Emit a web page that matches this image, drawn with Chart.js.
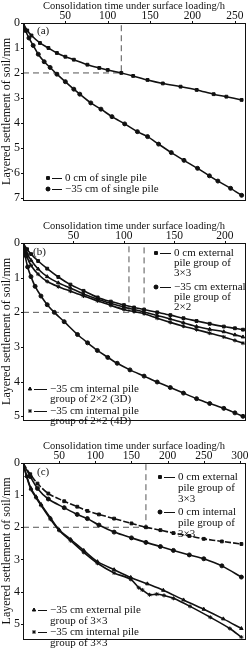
<!DOCTYPE html>
<html>
<head>
<meta charset="utf-8">
<script src="https://cdn.jsdelivr.net/npm/chart.js@4"></script>
<style>
  html, body { margin: 0; padding: 0; background: #fff; overflow: hidden; }
  body { width: 250px; height: 649px; position: relative; }
  canvas { position: absolute; left: 0; }
</style>
</head>
<body>
<canvas id="chartA" width="250" height="210" style="top:0px"></canvas>
<canvas id="chartB" width="250" height="210" style="top:220px"></canvas>
<canvas id="chartC" width="250" height="209" style="top:440px"></canvas>
<script>
// ===== DATA =====
// (a) single pile
const aTime0 = [0, 5, 10, 20, 30, 40, 50, 60, 76, 90, 100, 116, 130, 147, 165, 186, 205, 225, 240, 258];
const aSettle0 = [0, 0.3, 0.5, 0.8, 1.0, 1.2, 1.35, 1.47, 1.67, 1.8, 1.88, 2.0, 2.12, 2.28, 2.42, 2.55, 2.68, 2.85, 2.95, 3.08];
const aTime35 = [0, 3, 7, 12, 18, 25, 32, 40, 50, 60, 67, 80, 92, 105, 120, 135, 147, 160, 175, 190, 206, 220, 230, 245, 258];
const aSettle35 = [0, 0.3, 0.6, 0.9, 1.25, 1.55, 1.78, 2.05, 2.35, 2.65, 2.85, 3.2, 3.45, 3.75, 4.04, 4.35, 4.55, 4.85, 5.19, 5.5, 5.82, 6.12, 6.33, 6.62, 6.9];
const aGuideX = [0, 116, 116];
const aGuideY = [2, 2, 0];
const aTicksX = [50, 100, 150, 200, 250];
const aTicksY = [0, 1, 2, 3, 4, 5, 6, 7];

// (b) pile groups
const bTime = [0, 4, 8, 15, 24, 35, 47, 60, 74, 87, 100, 110, 120, 133, 146, 159, 172, 185, 199, 210, 218];
const bExt33 = [0, 0.18, 0.32, 0.52, 0.74, 0.98, 1.2, 1.38, 1.57, 1.69, 1.79, 1.86, 1.92, 2.0, 2.08, 2.17, 2.25, 2.33, 2.41, 2.46, 2.5];
const bInt3D = [0, 0.3, 0.5, 0.75, 0.97, 1.15, 1.3, 1.47, 1.62, 1.74, 1.85, 1.92, 1.99, 2.09, 2.19, 2.3, 2.41, 2.49, 2.56, 2.65, 2.71];
const bInt4D = [0, 0.4, 0.65, 0.9, 1.11, 1.26, 1.39, 1.53, 1.67, 1.8, 1.92, 1.98, 2.04, 2.17, 2.29, 2.4, 2.5, 2.6, 2.71, 2.81, 2.89];
const bTimeExt22 = [0, 2, 4.6, 7.9, 12, 17.8, 24, 31, 40.8, 54, 64, 73.7, 84, 93.4, 106, 120, 133, 146, 159, 172, 185, 199, 210, 218];
const bExt22 = [0, 0.35, 0.69, 0.97, 1.25, 1.53, 1.78, 2.0, 2.27, 2.64, 2.88, 3.1, 3.3, 3.47, 3.66, 3.84, 4.01, 4.17, 4.33, 4.49, 4.63, 4.77, 4.9, 5.0];
const bGuideX = [0, 120, 120];
const bGuideY = [2, 2, 0];
const bGuide2X = [105, 105];
const bGuide2Y = [2, 0];
const bTicksX = [50, 100, 150, 200];
const bTicksY = [0, 1, 2, 3, 4, 5];

// (c) 3x3 pile group
const cTime = [0, 10, 20, 35, 57, 75, 89, 105, 126, 150, 170, 190, 208, 230, 250, 275, 302];
const cExt0 = [0, 0.35, 0.64, 0.95, 1.19, 1.36, 1.49, 1.6, 1.73, 1.88, 2.0, 2.09, 2.18, 2.27, 2.36, 2.44, 2.52];
const cInt0 = [0, 0.42, 0.79, 1.12, 1.39, 1.6, 1.73, 1.93, 2.15, 2.33, 2.47, 2.6, 2.72, 2.86, 2.98, 3.2, 3.55];
const cTimeExt35 = [0, 5, 11, 18, 25, 38, 50, 66, 84, 103, 126, 149, 172, 194, 222, 250, 277, 302];
const cExt35 = [0, 0.4, 0.79, 1.05, 1.29, 1.71, 2.08, 2.38, 2.72, 3.07, 3.32, 3.56, 3.76, 3.96, 4.26, 4.55, 4.85, 5.15];
const cTimeInt35 = [0, 5, 11, 18, 25, 38, 50, 66, 84, 103, 126, 149, 160, 165, 175, 185, 195, 208, 231, 259, 286, 302];
const cInt35 = [0, 0.42, 0.82, 1.08, 1.32, 1.75, 2.1, 2.42, 2.78, 3.12, 3.42, 3.62, 3.88, 3.95, 4.1, 4.08, 4.12, 4.21, 4.46, 4.8, 5.15, 5.42];
const cGuideX = [0, 170, 170];
const cGuideY = [2, 2, 0];
const cTicksX = [50, 100, 150, 200, 250, 300];
const cTicksY = [0, 1, 2, 3, 4, 5];

const xTitle = "Consolidation time under surface loading/h";
const yTitle = "Layered settlement of soil/mm";

// ===== HELPERS =====
const serif = '"Liberation Serif", "DejaVu Serif", serif';
const ink = "#111";

function pts(xs, ys) {
    return xs.map((x, i) => ({ x: x, y: ys[i] }));
}

function series(xs, ys, marker, dash) {
    return {
        data: pts(xs, ys),
        borderColor: ink,
        backgroundColor: ink,
        borderWidth: 1.6,
        borderDash: dash || [],
        pointStyle: marker,
        pointRadius: 2,
        pointBorderWidth: 1,
        tension: 0.3
    };
}

function guide(xs, ys) {
    return {
        data: pts(xs, ys),
        borderColor: "#555",
        borderWidth: 1,
        borderDash: [6, 4],
        pointRadius: 0,
        tension: 0
    };
}

function drawMarker(ctx, style, x, y) {
    ctx.fillStyle = ink;
    ctx.strokeStyle = ink;
    ctx.lineWidth = 1;
    Chart.helpers.drawPoint(ctx, { pointStyle: style, radius: 2, borderWidth: 1 }, x, y);
    if (style !== "star") ctx.fill();
}

// frame, panel tag, legends and small ticks
const decor = {
    id: "decor",
    afterDraw(chart, args, opts) {
        const ctx = chart.ctx;
        const a = chart.chartArea;
        ctx.save();
        ctx.strokeStyle = ink;
        ctx.lineWidth = 1;
        ctx.strokeRect(Math.round(a.left) + 0.5, Math.round(a.top) + 0.5,
            Math.round(a.right - a.left), Math.round(a.bottom - a.top));

        // ticks
        ctx.beginPath();
        chart.scales.x.ticks.forEach(t => {
            const px = Math.round(chart.scales.x.getPixelForValue(t.value)) + 0.5;
            ctx.moveTo(px, a.top);
            ctx.lineTo(px, a.top - 2);
        });
        chart.scales.y.ticks.forEach(t => {
            const py = Math.round(chart.scales.y.getPixelForValue(t.value)) + 0.5;
            ctx.moveTo(a.left, py);
            ctx.lineTo(a.left - 2, py);
        });
        ctx.stroke();

        ctx.font = "11px " + serif;
        ctx.fillStyle = ink;
        ctx.textBaseline = "middle";
        ctx.textAlign = "left";
        ctx.fillText(opts.tag, opts.tagX, opts.tagY);

        opts.items.forEach(it => {
            drawMarker(ctx, it.marker, it.x, it.y);
            ctx.beginPath();
            ctx.moveTo(it.x + 4, it.y + 0.5);
            ctx.lineTo(it.x + it.line, it.y + 0.5);
            ctx.stroke();
            ctx.fillStyle = ink;
            it.lines.forEach((s, i) => {
                ctx.fillText(s, it.x + it.line + 3, it.y + i * it.gap);
            });
        });
        ctx.restore();
    }
};

function makeChart(id, datasets, xMax, yMax, xTicks, yTicks, padBottom, decorOpts) {
    return new Chart(document.getElementById(id), {
        type: "line",
        data: { datasets: datasets },
        options: {
            responsive: false,
            animation: false,
            layout: { padding: { top: 0, left: 0, right: 2, bottom: padBottom } },
            plugins: {
                legend: { display: false },
                tooltip: { enabled: false },
                decor: decorOpts
            },
            scales: {
                x: {
                    type: "linear",
                    position: "top",
                    min: 0,
                    max: xMax,
                    afterBuildTicks: s => { s.ticks = xTicks.map(v => ({ value: v })); },
                    afterFit: s => { s.height = 23; },
                    grid: { display: false, drawTicks: false },
                    border: { display: false },
                    ticks: { color: ink, font: { family: serif, size: 11.5 }, padding: 0, maxRotation: 0 },
                    title: { display: true, text: xTitle, color: ink, font: { family: serif, size: 10.5 }, padding: { top: 0, bottom: 0 } }
                },
                y: {
                    type: "linear",
                    reverse: true,
                    min: 0,
                    max: yMax,
                    afterBuildTicks: s => { s.ticks = yTicks.map(v => ({ value: v })); },
                    afterFit: s => { s.width = 23; },
                    grid: { display: false, drawTicks: false },
                    border: { display: false },
                    ticks: { color: ink, font: { family: serif, size: 12 }, padding: 3 },
                    title: { display: true, text: yTitle, color: ink, font: { family: serif, size: 12 }, padding: { top: 0, bottom: 0 } }
                }
            }
        },
        plugins: [decor]
    });
}

// ===== CHARTS =====
makeChart("chartA", [
    series(aTime0, aSettle0, "rect"),
    series(aTime35, aSettle35, "circle"),
    guide(aGuideX, aGuideY)
], 262, 7.08, aTicksX, aTicksY, 2, {
    tag: "(a)", tagX: 37, tagY: 31,
    items: [
        { marker: "rect", x: 48, y: 178, line: 14, gap: 11, lines: ["0 cm of single pile"] },
        { marker: "circle", x: 48, y: 189, line: 14, gap: 11, lines: ["\u221235 cm of single pile"] }
    ]
});

makeChart("chartB", [
    series(bTime, bExt33, "rect"),
    series(bTimeExt22, bExt22, "circle"),
    series(bTime, bInt3D, "triangle"),
    series(bTime, bInt4D, "star"),
    guide(bGuideX, bGuideY),
    guide(bGuide2X, bGuide2Y)
], 220, 5.1, bTicksX, bTicksY, 3, {
    tag: "(b)", tagX: 33, tagY: 32,
    items: [
        { marker: "rect", x: 156, y: 33, line: 15, gap: 10, lines: ["0 cm external", "pile group of", "3\u00d73"] },
        { marker: "circle", x: 156, y: 67, line: 15, gap: 10, lines: ["\u221235 cm external", "pile group of", "2\u00d72"] },
        { marker: "triangle", x: 30, y: 169, line: 17, gap: 10, lines: ["\u221235 cm internal pile", "group of 2\u00d72 (3D)"] },
        { marker: "star", x: 30, y: 191, line: 17, gap: 10, lines: ["\u221235 cm internal pile", "group of 2\u00d72 (4D)"] }
    ]
});

makeChart("chartC", [
    series(cTime, cExt0, "rect", [6, 2]),
    series(cTime, cInt0, "circle"),
    series(cTimeExt35, cExt35, "triangle"),
    series(cTimeInt35, cInt35, "star"),
    guide(cGuideX, cGuideY)
], 307, 5.47, cTicksX, cTicksY, 0, {
    tag: "(c)", tagX: 37, tagY: 32,
    items: [
        { marker: "rect", x: 160, y: 37, line: 15, gap: 11, lines: ["0 cm external", "pile group of", "3\u00d73"] },
        { marker: "circle", x: 160, y: 72, line: 15, gap: 11, lines: ["0 cm internal", "pile group of", "3\u00d73"] },
        { marker: "triangle", x: 34, y: 170, line: 13, gap: 11, lines: ["\u221235 cm external pile", "group of 3\u00d73"] },
        { marker: "star", x: 34, y: 192, line: 13, gap: 11, lines: ["\u221235 cm internal pile", "group of 3\u00d73"] }
    ]
});
</script>
</body>
</html>
